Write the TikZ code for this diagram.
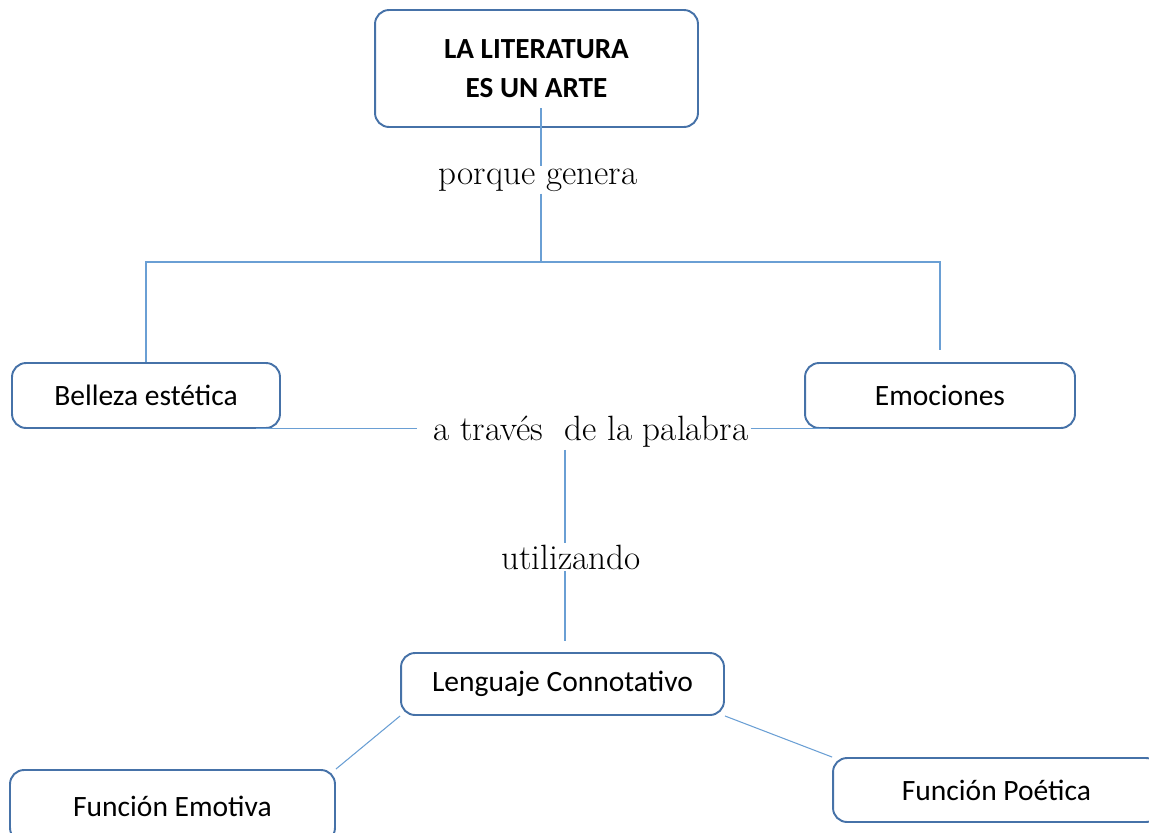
\documentclass[tikz,border=0pt]{standalone}
\usepackage{fontspec}
\newfontfamily\calibri{Carlito}
\definecolor{boxBlue}{HTML}{4672A8}
\definecolor{linkBlue}{HTML}{6A9FD4}

\begin{document}
\begin{tikzpicture}[x=0.02cm, y=-0.02cm,
    conbox/.style={draw=boxBlue, line width=1.1pt, rounded corners=8pt, inner sep=0pt,
        align=center, font=\calibri\fontsize{16.8}{20}\selectfont},
    link/.style={draw=linkBlue, line width=0.6pt},
    rel/.style={inner sep=1pt, font=\fontsize{20}{24}\selectfont}]
            \useasboundingbox (0,0) rectangle (1149,832);
            \node[conbox, minimum width=6.46cm, minimum height=2.34cm,
                font=\calibri\bfseries\fontsize{16.6}{22}\selectfont] (arte) at (536.5,68.5) {LA LITERATURA\\ES UN ARTE};
            \node[conbox, minimum width=5.36cm, minimum height=1.3cm] (belleza) at (146,395.5) {Belleza estética};
            \node[conbox, minimum width=5.4cm, minimum height=1.3cm] (emociones) at (940,395.5) {Emociones};
            \node[conbox, minimum width=6.46cm, minimum height=1.24cm] (lenguaje) at (562.5,684) {Lenguaje Connotativo};
            \node[conbox, minimum width=6.5cm, minimum height=1.44cm] (emotiva) at (172.5,806) {Función Emotiva};
            \node[conbox, minimum width=6.54cm, minimum height=1.28cm] (poetica) at (996.5,790) {Función Poética};
            \node[rel] (porque) at (538,180) {porque genera};
            \node[rel] (traves) at (591,432) {a través~ de la palabra};
            \node[rel] (utiliz) at (571,557) {utilizando};
            \coordinate (t0) at (541,108);
            \coordinate (j0) at (541,262);
            \coordinate (jr) at (940,350);
            \draw[link] (t0) -- (t0 |- porque.north);
            \draw[link] (t0 |- porque.south) -- (j0);
            \draw[link] (belleza.north) |- (jr |- j0) -- (jr);
            \draw[link] ([xshift=-25*0.02cm]belleza.south east) -- ([xshift=-14*0.02cm]traves.west |- belleza.south);
            \draw[link] (traves.east |- belleza.south) -- ([xshift=25*0.02cm]emociones.south west);
            \draw[link] (traves.south -| 565,0) -- (utiliz.north -| 565,0);
            \draw[link, shorten >=11*0.02cm] (utiliz.south -| 565,0) -- (lenguaje.north -| 565,0);
            \draw[link] (lenguaje.south west) -- (emotiva.north east);
            \draw[link] (lenguaje.south east) -- (poetica.north west);
        \end{tikzpicture}
\end{document}
